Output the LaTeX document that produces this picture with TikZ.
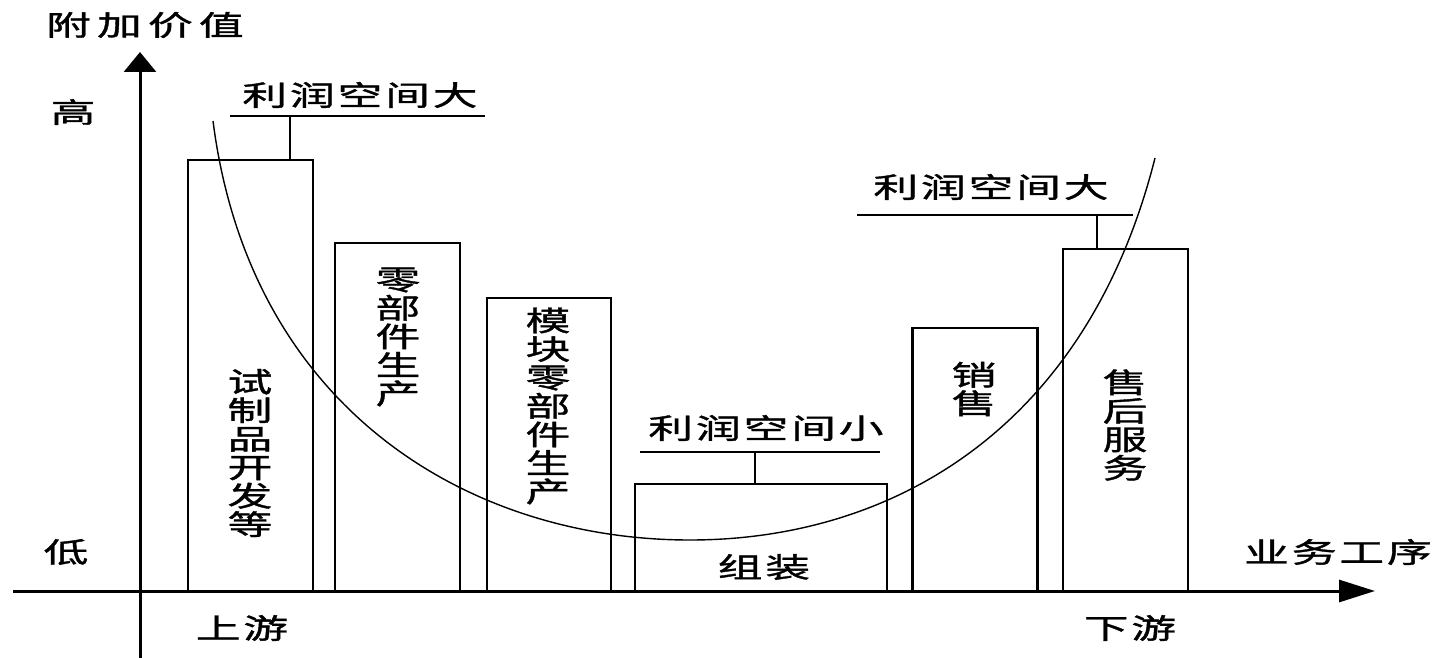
\documentclass[tikz,border=0pt]{standalone}
\usepackage{fontspec}
\newfontfamily\cjk[FakeStretch=1.6,LetterSpace=10,FakeBold=1.3]{Noto Sans CJK SC}
\newfontfamily\cjkwide[FakeStretch=1.6,LetterSpace=22,FakeBold=1.3]{Noto Sans CJK SC}
\usetikzlibrary{arrows.meta}
\begin{document}
\begin{tikzpicture}[x=1pt,y=-1pt,
  axis/.style={line width=3pt},
  bar/.style={draw, line width=2.4pt, inner sep=0pt},
  lbl/.style={font=\cjk\fontsize{28}{28.5}\selectfont, inner sep=0pt, align=center},
  lead/.style={line width=2pt},
  ucurve/.style={line width=1.4pt}]
\useasboundingbox (0,0) rectangle (1453,658);

% axes
\coordinate (ybot) at (140,658);
\coordinate (ytop) at (140,52);
\coordinate (xleft) at (13,591);
\coordinate (xright) at (1375,591);
\draw[axis,-{Triangle[length=20pt,width=32pt]}] (ybot) -- (ytop);
\draw[axis,-{Triangle[length=36pt,width=22pt]}] (xleft) -- (xright);

% axis texts
\node[lbl, font=\cjkwide\fontsize{28}{28.5}\selectfont] (yt) at (145,25) {附加价值};
\node[lbl] (hi) at (73,112) {高};
\node[lbl] (lo) at (66,552) {低};
\node[lbl] (up) at (242,628) {上游};
\node[lbl] (down) at (1130,628) {下游};
\node[lbl] (xt) at (1338,552) {业务工序};

% U curve
\coordinate (cl) at (213,121);
\coordinate (cm) at (690,540);
\coordinate (cr) at (1155,158);
\draw[ucurve] (cl) .. controls (250,410) and (470,540) .. (cm)
                   .. controls (890,540) and (1086,431) .. (cr);

% bars
\node[bar, minimum width=125pt, minimum height=431pt] (b1) at (250.5,375.5) {};
\node[bar, minimum width=125pt, minimum height=348pt] (b2) at (397.5,417) {};
\node[bar, minimum width=124pt, minimum height=293pt] (b3) at (549,444.5) {};
\node[bar, minimum width=252pt, minimum height=107pt] (b4) at (761,537.5) {};
\node[bar, minimum width=125pt, minimum height=263pt] (b5) at (975,459.5) {};
\node[bar, minimum width=125pt, minimum height=342pt] (b6) at (1125.5,420) {};

% bar texts
\node[lbl] (t1) at (250,453) {试\\制\\品\\开\\发\\等};
\node[lbl] (t2) at (398,337) {零\\部\\件\\生\\产};
\node[lbl] (t3) at (548,406) {模\\块\\零\\部\\件\\生\\产};
\node[lbl] (t4) at (764,567) {组装};
\node[lbl] (t5) at (974,389) {销\\售};
\node[lbl] (t6) at (1125,425) {售\\后\\服\\务};

% profit labels
\node[lbl] (p1) at (360,95) {利润空间大};
\coordinate (p1l) at (230,116);
\coordinate (p1r) at (485,116);
\coordinate (p1s) at (290,116);
\draw[lead] (p1l) -- (p1r);
\draw[lead] (p1s) -- (p1s |- b1.north);

\node[lbl] (p2) at (991,187) {利润空间大};
\coordinate (p2l) at (857,215);
\coordinate (p2r) at (1133,215);
\coordinate (p2s) at (1097,215);
\draw[lead] (p2l) -- (p2r);
\draw[lead] (p2s) -- (p2s |- b6.north);

\node[lbl] (p3) at (766,428) {利润空间小};
\coordinate (p3l) at (640,452);
\coordinate (p3r) at (880,452);
\coordinate (p3s) at (755,452);
\draw[lead] (p3l) -- (p3r);
\draw[lead] (p3s) -- (p3s |- b4.north);
\end{tikzpicture}
\end{document}
